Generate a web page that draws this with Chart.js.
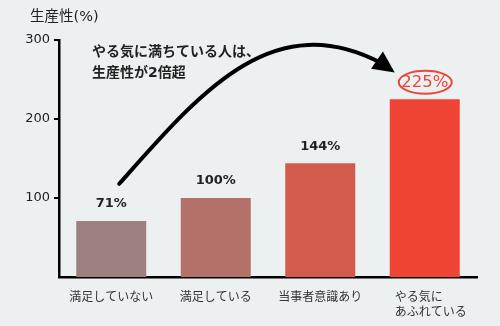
<!DOCTYPE html>
<html lang="ja">
<head>
<meta charset="utf-8">
<script src="https://cdn.jsdelivr.net/npm/chart.js@4"></script>
<style>
  html, body { margin: 0; padding: 0; background: #edf0f1; }
  #wrap { width: 500px; height: 326px; position: relative; }
</style>
</head>
<body>
<div id="wrap"><canvas id="chart"></canvas></div>
<script>
const categories = ["満足していない", "満足している", "当事者意識あり", ["　やる気に　　", "　あふれている"]];
const productivity = [71, 100, 144, 225];
const valueLabels = ["71%", "100%", "144%", "225%"];
const barColors = ["#9e8080", "#b4716a", "#d35b4e", "#ef4433"];
const yTicks = [100, 200, 300];
const axisTitle = "生産性(%)";
const headline = ["やる気に満ちている人は、", "生産性が2倍超"];

const FONT = '"DejaVu Sans", "Noto Sans CJK JP", sans-serif';

// value labels, arrow, headline and the y-axis caption
const overlay = {
  id: "overlay",
  afterDatasetsDraw(chart) {
    const { ctx, scales } = chart;
    const x = scales.x, y = scales.y;
    ctx.save();

    ctx.fillStyle = "#222";
    ctx.font = "14.5px " + FONT;
    ctx.textAlign = "left";
    ctx.textBaseline = "middle";
    ctx.fillText(axisTitle, 30, 17);

    ctx.font = "bold 14px " + FONT;
    ctx.fillText(headline[0], 92, 52);
    ctx.fillText(headline[1], 92, 73);

    const meta = chart.getDatasetMeta(0);
    ctx.textAlign = "center";
    productivity.forEach((v, i) => {
      const bar = meta.data[i];
      const ly = bar.y - 17;
      if (i === productivity.length - 1) {
        ctx.font = "16.5px " + FONT;
        ctx.fillStyle = "#e8473a";
        ctx.fillText(valueLabels[i], bar.x, ly);
        ctx.strokeStyle = "#e8473a";
        ctx.lineWidth = 2;
        ctx.beginPath();
        ctx.ellipse(bar.x + 0.5, ly, 26.5, 11.5, 0, 0, Math.PI * 2);
        ctx.stroke();
      } else {
        ctx.font = "bold 13px " + FONT;
        ctx.fillStyle = "#222";
        ctx.fillText(valueLabels[i], bar.x, ly);
      }
    });

    // curved arrow from the first bar toward the last one
    const sx = x.getPixelForValue(0) + 8, sy = y.getPixelForValue(118);
    const tx = x.getPixelForValue(3) - 30, ty = y.getPixelForValue(259);
    const ex = tx - 13, ey = ty - 9;
    ctx.strokeStyle = "#000";
    ctx.lineWidth = 4;
    ctx.lineCap = "round";
    ctx.beginPath();
    ctx.moveTo(sx, sy);
    ctx.bezierCurveTo(sx + 80, sy - 90, ex - 110, ey - 58, ex, ey);
    ctx.stroke();

    const ang = Math.atan2(ty - ey, tx - ex);
    ctx.fillStyle = "#000";
    ctx.beginPath();
    ctx.moveTo(tx, ty);
    ctx.lineTo(tx - 24 * Math.cos(ang - 0.45), ty - 24 * Math.sin(ang - 0.45));
    ctx.lineTo(tx - 24 * Math.cos(ang + 0.45), ty - 24 * Math.sin(ang + 0.45));
    ctx.closePath();
    ctx.fill();

    ctx.restore();
  }
};

new Chart(document.getElementById("chart"), {
  type: "bar",
  data: {
    labels: categories,
    datasets: [{
      data: productivity,
      backgroundColor: barColors,
      barPercentage: 0.67,
      categoryPercentage: 1
    }]
  },
  options: {
    responsive: true,
    maintainAspectRatio: false,
    animation: false,
    layout: { padding: { top: 40, right: 23, left: 0, bottom: 0 } },
    plugins: { legend: { display: false }, tooltip: { enabled: false } },
    scales: {
      x: {
        afterFit: (s) => { s.height = 49; },
        border: { color: "#000", width: 2.5 },
        grid: { display: false },
        ticks: { color: "#333", font: { family: FONT, size: 12 }, padding: 6, maxRotation: 0 }
      },
      y: {
        min: 0,
        max: 300,
        afterFit: (s) => { s.width = 59; },
        afterBuildTicks: (s) => { s.ticks = yTicks.map((v) => ({ value: v })); },
        border: { color: "#000", width: 2.5 },
        grid: { drawOnChartArea: false, color: "#000", lineWidth: 2, tickLength: 5 },
        ticks: {
          color: "#222",
          font: { family: FONT, size: 13 },
          padding: 4
        }
      }
    }
  },
  plugins: [overlay]
});
</script>
</body>
</html>
